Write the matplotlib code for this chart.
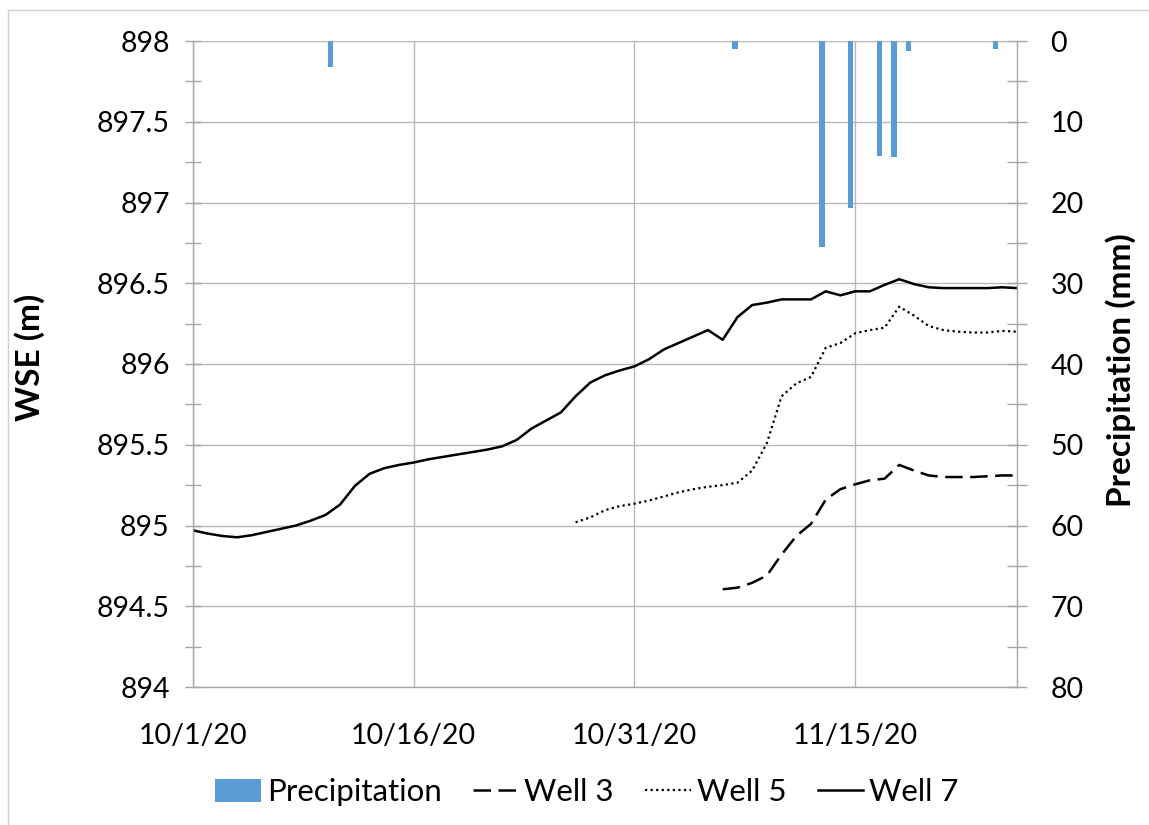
import matplotlib
matplotlib.use("Agg")
import matplotlib.pyplot as plt
from matplotlib.patches import Rectangle
from matplotlib.ticker import MultipleLocator
import numpy as np
import pandas as pd

plt.rcParams['font.family'] = ['Lato', 'DejaVu Sans']

# Daily record, 10/1/20 through 11/26/20
start_date = '2020-10-01'
end_date = '2020-11-26'

# Well 7 water-surface elevation (m), one value per day from 10/1/20
well7 = [894.97, 894.95, 894.935, 894.927, 894.94, 894.96, 894.98, 895.00,
         895.03, 895.065, 895.13, 895.245, 895.32, 895.355, 895.375, 895.39,
         895.41, 895.425, 895.44, 895.455, 895.47, 895.49, 895.53, 895.60,
         895.65, 895.70, 895.80, 895.885, 895.93, 895.96, 895.985, 896.03,
         896.09, 896.13, 896.17, 896.21, 896.15, 896.29, 896.365, 896.38,
         896.40, 896.40, 896.40, 896.45, 896.425, 896.45, 896.45, 896.49,
         896.525, 896.495, 896.475, 896.47, 896.47, 896.47, 896.47, 896.475,
         896.47]

# Well 5 starts on 10/27/20
well5_start = '2020-10-27'
well5 = [895.02, 895.05, 895.095, 895.12, 895.135, 895.155, 895.18, 895.205,
         895.225, 895.24, 895.25, 895.265, 895.34, 895.51, 895.80, 895.88,
         895.92, 896.10, 896.13, 896.19, 896.21, 896.225, 896.355, 896.30,
         896.235, 896.21, 896.20, 896.195, 896.195, 896.205, 896.20]

# Well 3 starts on 11/6/20
well3_start = '2020-11-06'
well3 = [894.605, 894.615, 894.645, 894.69, 894.82, 894.935, 895.01, 895.16,
         895.225, 895.255, 895.28, 895.29, 895.375, 895.34, 895.31, 895.30,
         895.30, 895.30, 895.305, 895.31, 895.31]

# Daily precipitation (mm) on days with rain
rain_dates = ['2020-10-10', '2020-11-07', '2020-11-13', '2020-11-15',
              '2020-11-17', '2020-11-18', '2020-11-19', '2020-11-25']
rain_mm = [3.2, 1.0, 25.5, 20.7, 14.2, 14.4, 1.2, 1.0]

# Axis labels
date_ticks = ['2020-10-01', '2020-10-16', '2020-10-31', '2020-11-15']
date_tick_labels = ['10/1/20', '10/16/20', '10/31/20', '11/15/20']
wse_ticks = [894, 894.5, 895, 895.5, 896, 896.5, 897, 897.5, 898]
wse_tick_labels = ['894', '894.5', '895', '895.5', '896', '896.5', '897', '897.5', '898']

days = pd.date_range(start_date, end_date, freq='D')
d7 = days
d5 = pd.date_range(well5_start, periods=len(well5), freq='D')
d3 = pd.date_range(well3_start, periods=len(well3), freq='D')

# Precipitation as a daily category series
precip = np.zeros(len(days))
for d, v in zip(rain_dates, rain_mm):
    precip[(pd.Timestamp(d) - pd.Timestamp(start_date)).days] = v

grid_c = '#b8b8b8'
spine_c = '#a6a6a6'
fs = 20.5
label_fs = 24

fig = plt.figure(figsize=(11.49, 8.25), dpi=100)
pos = [193 / 1149, 1 - 687 / 825, (1017 - 193) / 1149, (687 - 41) / 825]

ax = fig.add_axes(pos)
ax.plot(d3, well3, color='black', lw=1.8, dashes=(7, 3), label='Well 3')
ax.plot(d5, well5, color='black', lw=1.6, linestyle=(0, (1, 1.5)), label='Well 5')
ax.plot(d7, well7, color='black', lw=1.8, label='Well 7')

ax.set_xlim(pd.Timestamp(start_date), pd.Timestamp(end_date))
ax.set_ylim(894, 898)
ax.yaxis.set_minor_locator(MultipleLocator(0.25))
ax.set_yticks(wse_ticks)
ax.set_yticklabels(wse_tick_labels)
ax.set_xticks(pd.to_datetime(date_ticks))
ax.set_xticklabels(date_tick_labels)
ax.grid(True, which='major', color=grid_c, lw=1.0)
ax.set_axisbelow(True)
ax.tick_params(axis='y', which='both', direction='inout', length=11.5,
               color=spine_c, width=1.0, labelsize=fs, pad=11)
ax.tick_params(axis='x', length=0, labelsize=fs, pad=26)
for s in ['top', 'right']:
    ax.spines[s].set_visible(False)
for s in ['left', 'bottom']:
    ax.spines[s].set_color(spine_c)
    ax.spines[s].set_linewidth(1.0)
ax.set_ylabel('WSE (m)', fontsize=label_fs, fontweight='bold')
ax.yaxis.set_label_coords(-0.18, 0.51)

# Precipitation on a secondary, inverted axis
axb = fig.add_axes(pos, facecolor='none')
idx = np.arange(len(days))
axb.bar(idx, precip, width=0.37, color='#5b9bd5', label='Precipitation')
axb.set_xlim(-0.5, len(days) - 0.5)
axb.set_ylim(80, 0)
axb.xaxis.set_visible(False)
axb.yaxis.tick_right()
axb.yaxis.set_label_position('right')
axb.yaxis.set_major_locator(MultipleLocator(10))
axb.yaxis.set_minor_locator(MultipleLocator(5))
axb.tick_params(axis='y', which='both', direction='inout', length=14,
                color=spine_c, width=1.0, labelsize=fs, pad=17)
for s in ['top', 'left', 'bottom']:
    axb.spines[s].set_visible(False)
axb.spines['right'].set_color(spine_c)
axb.spines['right'].set_linewidth(1.0)
axb.set_ylabel('Precipitation (mm)', fontsize=label_fs, fontweight='bold')
axb.yaxis.set_label_coords(1.107, 0.49)

# Legend along the bottom
h_bar, l_bar = axb.get_legend_handles_labels()
h_ln, l_ln = ax.get_legend_handles_labels()
fig.legend(h_bar + h_ln, l_bar + l_ln, loc='center', ncol=4,
           bbox_to_anchor=(587 / 1149, 1 - 792 / 825), frameon=False,
           fontsize=22.5, handlelength=1.45, handleheight=0.75,
           handletextpad=0.2, columnspacing=1.0)

# Chart-area border
fig.patches.append(Rectangle((8 / 1149, -0.05), 1.2, 1 - 10 / 825 + 0.05,
                             transform=fig.transFigure, fill=False,
                             edgecolor='#d0d0d0', lw=1.0))

fig.savefig('out.png', dpi=100)
